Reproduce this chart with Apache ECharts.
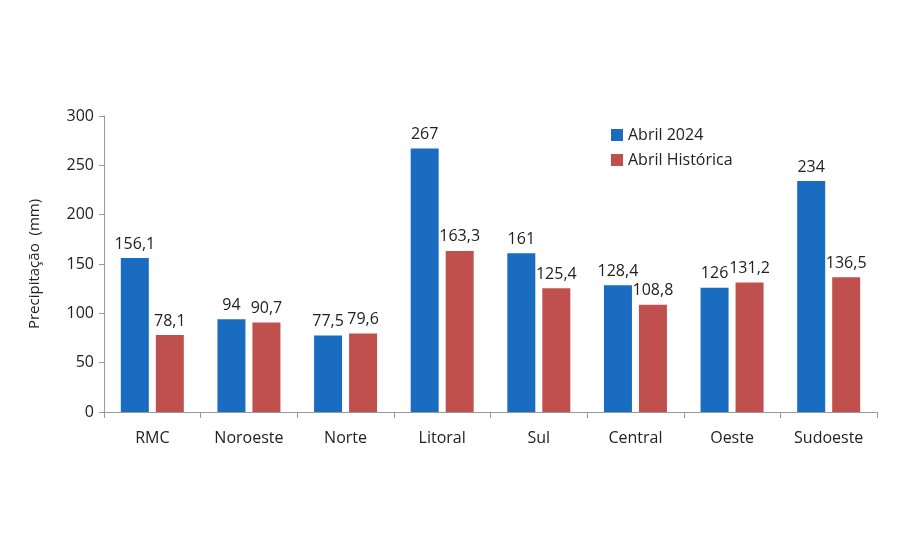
<!DOCTYPE html>
<html><head><meta charset="utf-8">
<script src="https://cdn.jsdelivr.net/npm/echarts@6/dist/echarts.min.js"></script>
<style>html,body{margin:0;padding:0;background:#fff}#c{width:915px;height:555px}</style>
</head><body><div id="c"></div>
<script>
var categories = ['RMC','Noroeste','Norte','Litoral','Sul','Central','Oeste','Sudoeste'];
var abril2024 = [156.1, 94, 77.5, 267, 161, 128.4, 126, 234];
var abrilHistorica = [78.1, 90.7, 79.6, 163.3, 125.4, 108.8, 131.2, 136.5];
var yTicks = [0, 50, 100, 150, 200, 250, 300];

var fmt = function(p){ return String(p.value).replace('.', ','); };
var chart = echarts.init(document.getElementById('c'));
var font = 'Open Sans, Noto Sans, sans-serif';
chart.setOption({
  animation: false,
  textStyle: {fontFamily: font},
  legend: {
    orient: 'vertical', left: 606, top: 122, itemWidth: 12, itemHeight: 12, itemGap: 9,
    icon: 'rect', textStyle: {fontSize: 16, color: '#222', fontFamily: font}
  },
  grid: {left: 104, right: 38, top: 116, bottom: 143},
  xAxis: {
    type: 'category', data: categories,
    axisLine: {lineStyle: {color: '#999'}},
    axisTick: {show: true, length: 6, lineStyle: {color: '#999'}},
    axisLabel: {fontSize: 16, color: '#222', margin: 18, fontFamily: font}
  },
  yAxis: {
    type: 'value', min: yTicks[0], max: yTicks[yTicks.length-1], interval: 50,
    name: 'Precipitação  (mm)', nameLocation: 'middle', nameGap: 62, nameRotate: 90,
    nameTextStyle: {fontSize: 15, color: '#222', fontFamily: font},
    axisLine: {show: true, lineStyle: {color: '#999'}},
    axisTick: {show: true, length: 5, lineStyle: {color: '#999'}},
    splitLine: {show: false},
    axisLabel: {fontSize: 16, color: '#222', margin: 10, fontFamily: font}
  },
  series: [
    {name: 'Abril 2024', type: 'bar', data: abril2024, barWidth: 28, barGap: '25%',
     itemStyle: {color: '#1a6cc0'},
     label: {show: true, position: 'top', distance: 6, fontSize: 16, color: '#222', formatter: fmt, fontFamily: font}},
    {name: 'Abril Histórica', type: 'bar', data: abrilHistorica, barWidth: 28,
     itemStyle: {color: '#c0504d'},
     label: {show: true, position: 'top', distance: 6, fontSize: 16, color: '#222', formatter: fmt, fontFamily: font}}
  ]
});
</script></body></html>
